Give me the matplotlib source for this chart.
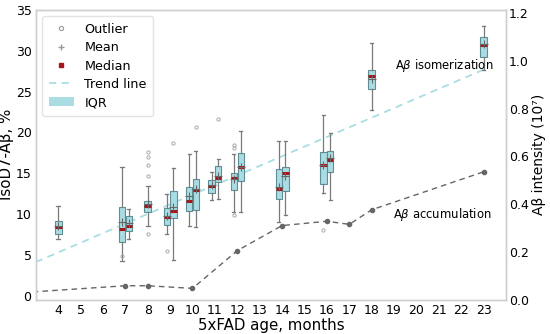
import matplotlib
matplotlib.use("Agg")
import matplotlib.pyplot as plt
from matplotlib.lines import Line2D
from matplotlib.patches import Patch

# ---------------- data ----------------
box_pos = [4, 6.85, 7.15, 8, 8.85, 9.15, 9.85, 10.15, 10.85, 11.15, 11.85, 12.15,
           13.85, 14.15, 15.85, 16.15, 18, 23]
box_med = [8.4, 8.17, 8.57, 10.97, 9.63, 10.37, 11.6, 12.96, 13.45, 14.4, 14.35, 15.7,
           13.05, 15.0, 16.06, 16.6, 26.9, 30.7]
box_q1 = [7.56, 6.55, 7.96, 10.2, 8.66, 9.47, 10.4, 10.5, 12.6, 13.9, 12.9, 14.06,
          11.8, 12.8, 13.7, 15.1, 25.3, 29.3]
box_q3 = [9.18, 10.9, 9.7, 11.6, 10.7, 12.8, 13.3, 14.3, 14.2, 15.9, 14.96, 17.5,
          15.5, 15.7, 17.6, 17.7, 27.6, 31.7]
box_lo = [6.95, 4.27, 6.95, 8.57, 7.6, 4.39, 8.57, 8.37, 11.7, 11.8, 10.3, 10.3,
          9.0, 9.9, 12.6, 11.7, 22.7, 27.7]
box_hi = [11.0, 15.8, 10.6, 13.45, 12.5, 15.6, 17.3, 17.7, 15.1, 16.7, 17.3, 20.2,
          18.9, 18.9, 22.1, 19.9, 30.9, 33.0]
box_mean = [8.5, 9.0, 8.9, 11.2, 9.7, 10.9, 12.2, 13.0, 13.6, 14.6, 14.3, 15.8,
            13.3, 14.6, 16.0, 16.8, 26.5, 30.8]
box_fliers = [[], [4.9], [], [17.6, 17.0, 16.0, 14.6, 7.6], [5.45], [18.7], [], [20.6],
              [], [21.6], [18.5, 18.1, 9.9], [], [], [], [8.0], [], [], []]

trend_x = [3, 23]
trend_y = [4.1, 27.7]

acc_x = [2, 7, 8, 10, 12, 14, 16, 17, 18, 23]
acc_y = [0.027, 0.058, 0.058, 0.047, 0.205, 0.31, 0.328, 0.315, 0.376, 0.535]

xticks = list(range(4, 24))

# ---------------- plot ----------------
fig = plt.figure(figsize=(5.5, 3.34), dpi=100)
ax = fig.add_axes([0.065, 0.103, 0.855, 0.867])
ax2 = ax.twinx()

box_face = "#a9dde3"
box_edge = "#5e8f96"
grey = "#7a7a7a"
red = "#a3161a"

stats = []
for i in range(len(box_pos)):
    stats.append(dict(med=box_med[i], q1=box_q1[i], q3=box_q3[i], whislo=box_lo[i],
                      whishi=box_hi[i], mean=box_mean[i], fliers=box_fliers[i]))
widths = [0.32 if abs(p - round(p)) < 1e-6 else 0.28 for p in box_pos]

ax.bxp(stats, positions=box_pos, widths=widths, patch_artist=True, showmeans=True,
       manage_ticks=False,
       boxprops=dict(facecolor=box_face, edgecolor=box_edge, linewidth=0.8),
       whiskerprops=dict(color=grey, linewidth=0.9),
       capprops=dict(color=grey, linewidth=0.9),
       medianprops=dict(color=red, linewidth=2.2, solid_capstyle="butt"),
       meanprops=dict(marker="+", markeredgecolor="#666666", markersize=6, markeredgewidth=0.8),
       flierprops=dict(marker="o", markerfacecolor="none", markeredgecolor="#aaaaaa",
                       markersize=2.3, markeredgewidth=0.7),
       zorder=3)

ax.plot(trend_x, trend_y, linestyle=(0, (4, 3)), color="#a9dde3", linewidth=1.3, zorder=2)
ax2.plot(acc_x, acc_y, linestyle=(0, (4, 3)), color="#666666", linewidth=1.0,
         marker="o", markersize=3, zorder=2)

ax.set_xlim(3, 24)
ax.set_ylim(-0.5, 35)
ax2.set_ylim(0, 1.2125)
ax.set_xticks(xticks)
ax.set_xticklabels([str(t) for t in xticks])
ax.set_yticks([0, 5, 10, 15, 20, 25, 30, 35])
ax2.set_yticks([0.0, 0.2, 0.4, 0.6, 0.8, 1.0, 1.2])

for a in (ax, ax2):
    a.tick_params(length=0, labelsize=9, pad=3)
    for s in a.spines.values():
        s.set_color("#cfcfcf")
        s.set_linewidth(1.0)
ax.tick_params(axis="x", pad=3)
ax2.tick_params(axis="y", pad=2)

ax.set_xlabel("5xFAD age, months", fontsize=10.8, labelpad=1)
ax.set_ylabel("IsoD7-Aβ, %", fontsize=10.8, labelpad=1)
ax2.set_ylabel("Aβ intensity (10⁷)", fontsize=10, labelpad=2)

ax.text(19.05, 28.2, r"A$\beta$ isomerization", fontsize=8.4, va="center", ha="left")
ax.text(18.95, 9.9, r"A$\beta$ accumulation", fontsize=8.4, va="center", ha="left")

handles = [
    Line2D([], [], linestyle="none", marker="o", markerfacecolor="none",
           markeredgecolor="#999999", markersize=3, markeredgewidth=0.8),
    Line2D([], [], linestyle="none", marker="+", markeredgecolor="#999999", markersize=5),
    Line2D([], [], linestyle="none", marker="s", markerfacecolor=red, markeredgecolor=red,
           markersize=3),
    Line2D([], [], linestyle=(0, (4, 3)), color="#a9dde3", linewidth=1.3),
    Patch(facecolor=box_face, edgecolor="none"),
]
labels = ["Outlier", "Mean", "Median", "Trend line", "IQR"]
leg = ax.legend(handles, labels, loc="upper left", fontsize=9.2, frameon=True,
                handlelength=2.0, handletextpad=0.8, borderpad=0.5, labelspacing=0.42,
                bbox_to_anchor=(0.0, 1.0))
leg.get_frame().set_edgecolor("#dddddd")
ax.set_zorder(ax2.get_zorder() + 1)
ax.patch.set_visible(False)

fig.savefig("out.png", dpi=100)
